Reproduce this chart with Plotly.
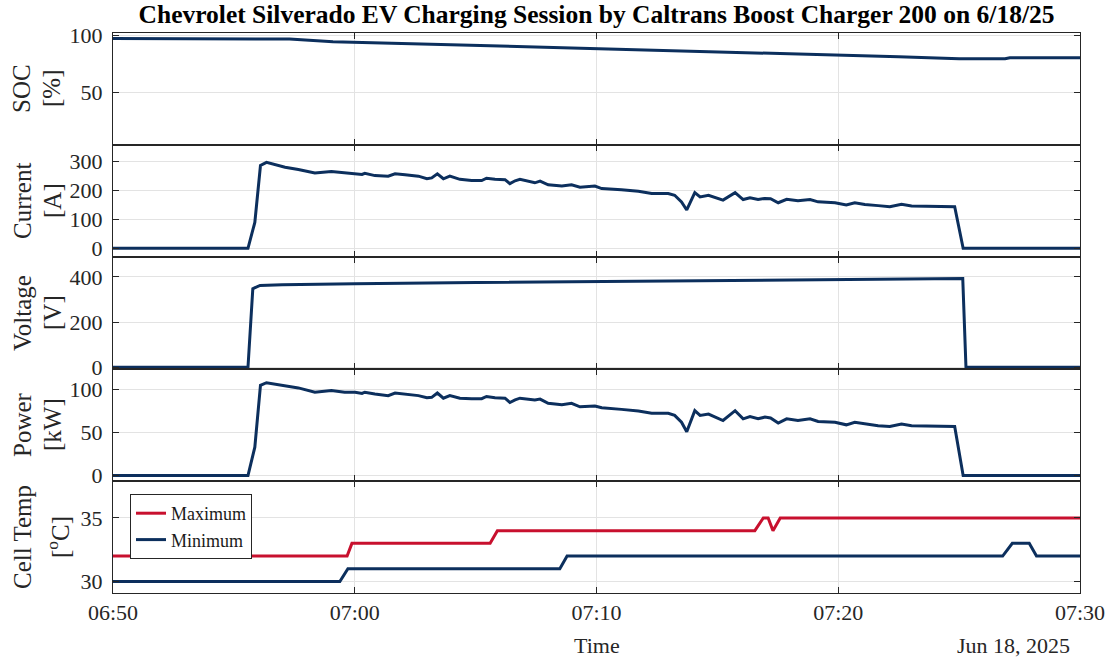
import plotly.graph_objects as go
from plotly.subplots import make_subplots

DATE = "2025-06-18 "

# ---- data ----
soc_times = ["06:50:00", "06:55:40", "06:57:18", "06:59:06", "07:01:54", "07:06:00",
             "07:10:06", "07:14:18", "07:18:24", "07:22:30", "07:25:00", "07:26:54",
             "07:27:06", "07:30:00"]
soc_values = [97.1, 97.1, 96.5, 94.1, 92.8, 90.4, 88.2, 86.0, 83.8, 81.1, 79.4, 79.4, 80.3, 80.3]

charge_times = ["06:50:00", "06:55:35", "06:55:52", "06:56:06", "06:56:21", "06:57:07",
                "06:57:40", "06:58:21", "06:59:02", "06:59:35", "07:00:01", "07:00:18",
                "07:00:25", "07:00:50", "07:01:23", "07:01:40", "07:02:05", "07:02:38",
                "07:02:59", "07:03:11", "07:03:25", "07:03:40", "07:03:56", "07:04:21",
                "07:04:50", "07:05:15", "07:05:27", "07:05:48", "07:06:13", "07:06:25",
                "07:06:38", "07:06:50", "07:07:27", "07:07:40", "07:08:00", "07:08:34",
                "07:08:58", "07:09:19", "07:09:56", "07:10:13", "07:11:02", "07:11:44",
                "07:12:17", "07:12:58", "07:13:14", "07:13:31", "07:13:44", "07:14:04",
                "07:14:17", "07:14:38", "07:15:14", "07:15:44", "07:16:04", "07:16:21",
                "07:16:41", "07:16:58", "07:17:12", "07:17:31", "07:17:52", "07:18:20",
                "07:18:50", "07:19:10", "07:19:52", "07:20:20", "07:20:41", "07:21:06",
                "07:21:39", "07:22:08", "07:22:37", "07:23:02", "07:24:49", "07:25:10",
                "07:30:00"]
current_values = [0, 0, 90, 287, 298, 281,
                  273, 261, 266, 262, 260, 256,
                  260, 252, 250, 258, 255, 250,
                  241, 244, 258, 241, 250, 239,
                  235, 235, 243, 239, 238, 224,
                  234, 239, 227, 233, 220, 216,
                  220, 212, 216, 207, 203, 198,
                  190, 190, 184, 161, 133, 193,
                  178, 184, 167, 193, 169, 175,
                  169, 173, 172, 158, 170, 165,
                  169, 161, 158, 150, 158, 152,
                  148, 144, 153, 147, 144, 0,
                  0]
power_values = [0, 0, 33, 105, 108, 104,
                102, 97, 99, 97, 97, 95.5,
                97, 95, 93, 96, 95, 93,
                90.5, 91, 96, 90, 93, 90,
                89.5, 89.5, 92, 90.5, 90, 85,
                88, 90, 88, 89, 84, 82.5,
                84, 80, 81, 79, 77, 75,
                72.5, 72.5, 70, 62, 51, 75.5,
                70, 71.5, 64, 75.5, 66, 68.5,
                66, 68, 67, 61, 66, 64,
                66, 63, 62, 59, 62, 60,
                58, 57, 60, 58, 57, 0,
                0]

voltage_times = ["06:50:00", "06:55:35", "06:55:47", "06:56:05", "06:57:00", "07:00:00",
                 "07:05:00", "07:10:00", "07:15:00", "07:20:00", "07:25:09", "07:25:17",
                 "07:30:00"]
voltage_values = [0, 0, 348, 362, 365, 370, 375, 379, 384, 388, 393, 0, 0]

tmax_times = ["06:50:00", "06:59:41", "06:59:53", "07:05:36", "07:05:54", "07:16:33",
              "07:16:54", "07:17:06", "07:17:18", "07:17:36", "07:30:00"]
tmax_values = [32, 32, 33, 33, 34, 34, 35, 35, 34, 35, 35]
tmin_times = ["06:50:00", "06:59:23", "06:59:43", "07:08:29", "07:08:47", "07:26:48",
              "07:27:12", "07:27:54", "07:28:12", "07:30:00"]
tmin_values = [30, 30, 31, 31, 32, 32, 33, 33, 32, 32]

x_tick_times = ["06:50", "07:00", "07:10", "07:20", "07:30"]
y_labels = [("SOC", "[%]"), ("Current", "[A]"), ("Voltage", "[V]"), ("Power", "[kW]"),
            ("Cell Temp", "[<sup>o</sup>C]")]
y_ticks = [[50, 100], [0, 100, 200, 300], [0, 200, 400], [0, 50, 100], [30, 35]]
y_ranges = [[4.4, 101.8], [-30, 358], [-7.5, 488], [-6.4, 124], [29.1, 37.9]]

TITLE = "Chevrolet Silverado EV Charging Session by Caltrans Boost Charger 200 on 6/18/25"

NAVY = "#0c2f5d"
RED = "#c8102e"
AX = "#262626"
GRID = "#e3e3e3"
FONT = "Liberation Serif"

W, H = 1112, 659
PL, PR, PT, PB = 113, 1080, 33, 593
PW, PH = PR - PL, PB - PT


def ts(lst):
    return [DATE + t for t in lst]


fig = make_subplots(rows=5, cols=1, shared_xaxes=True, vertical_spacing=0)

fig.add_trace(go.Scatter(x=ts(soc_times), y=soc_values, mode="lines",
                         line=dict(color=NAVY, width=3), showlegend=False), row=1, col=1)
fig.add_trace(go.Scatter(x=ts(charge_times), y=current_values, mode="lines",
                         line=dict(color=NAVY, width=3), showlegend=False), row=2, col=1)
fig.add_trace(go.Scatter(x=ts(voltage_times), y=voltage_values, mode="lines",
                         line=dict(color=NAVY, width=3), showlegend=False), row=3, col=1)
fig.add_trace(go.Scatter(x=ts(charge_times), y=power_values, mode="lines",
                         line=dict(color=NAVY, width=3), showlegend=False), row=4, col=1)
fig.add_trace(go.Scatter(x=ts(tmax_times), y=tmax_values, mode="lines", name="Maximum",
                         line=dict(color=RED, width=3)), row=5, col=1)
fig.add_trace(go.Scatter(x=ts(tmin_times), y=tmin_values, mode="lines", name="Minimum",
                         line=dict(color=NAVY, width=3)), row=5, col=1)

xt = [DATE + t + ":00" for t in x_tick_times]
for r in range(1, 6):
    fig.update_xaxes(row=r, col=1, range=[xt[0], xt[-1]], tickvals=xt,
                     ticktext=x_tick_times, showticklabels=(r == 5), automargin=False,
                     showgrid=True, gridcolor=GRID, gridwidth=1,
                     showline=True, linecolor=AX, linewidth=1, mirror="ticks",
                     ticks="inside", ticklen=6, tickcolor=AX,
                     tickfont=dict(family=FONT, size=22, color=AX), zeroline=False)
    fig.update_yaxes(row=r, col=1, range=y_ranges[r - 1], tickvals=y_ticks[r - 1],
                     automargin=False,
                     showgrid=True, gridcolor=GRID, gridwidth=1,
                     showline=True, linecolor=AX, linewidth=1, mirror="ticks",
                     ticks="inside", ticklen=6, tickcolor=AX, ticklabelstandoff=5,
                     tickfont=dict(family=FONT, size=22, color=AX), zeroline=False)

annotations = []
n = 5
for i, (l1, l2) in enumerate(y_labels):
    yc = 1 - (i + 0.5) / n
    annotations.append(dict(text=l1, x=-(113 - 22) / PW, y=yc, xref="paper", yref="paper",
                            textangle=-90, showarrow=False, xanchor="center", yanchor="middle",
                            font=dict(family=FONT, size=25, color=AX)))
    annotations.append(dict(text=l2, x=-(113 - (58 if i == 4 else 52)) / PW, y=yc,
                            xref="paper", yref="paper",
                            textangle=-90, showarrow=False, xanchor="center", yanchor="middle",
                            font=dict(family=FONT, size=25, color=AX)))

annotations.append(dict(text="Time", x=0.5, y=-(645 - 593) / PH, xref="paper", yref="paper",
                        showarrow=False, xanchor="center", yanchor="middle",
                        font=dict(family=FONT, size=22, color=AX)))
annotations.append(dict(text="Jun 18, 2025", x=(1013 - 113) / PW, y=-(645 - 593) / PH,
                        xref="paper", yref="paper", showarrow=False,
                        xanchor="center", yanchor="middle",
                        font=dict(family=FONT, size=22, color=AX)))

fig.update_layout(
    width=W, height=H,
    margin=dict(l=PL, r=W - PR, t=PT, b=H - PB, autoexpand=False),
    paper_bgcolor="white", plot_bgcolor="white",
    title=dict(text="<b>" + TITLE + "</b>", x=0.5, xref="paper", xanchor="center",
               y=1 - 14 / H, yanchor="middle",
               font=dict(family=FONT, size=25.5, color="black")),
    legend=dict(x=(130 - 113) / PW, y=(593 - 494) / PH, xanchor="left", yanchor="top",
                bgcolor="white", bordercolor=AX, borderwidth=1,
                font=dict(family=FONT, size=18, color="#1a1a1a"), tracegroupgap=0),
    annotations=annotations,
)

fig.write_html("out.html", config={"displayModeBar": False},
               post_script="document.body.style.margin='0';document.body.style.overflow='hidden';")
